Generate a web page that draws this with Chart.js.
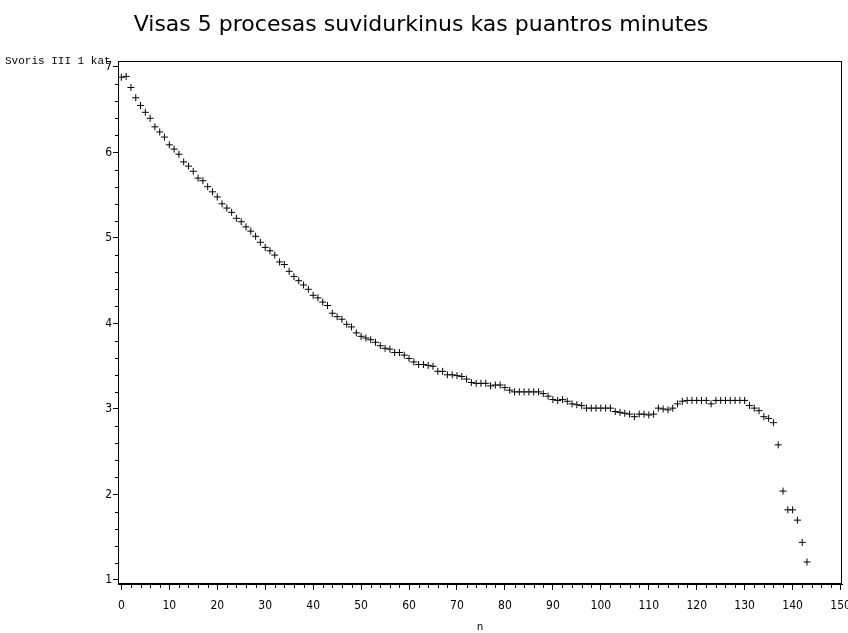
<!DOCTYPE html>
<html lang="lt">
<head>
  <meta charset="UTF-8">
  <title>Visas 5 procesas suvidurkinus kas puantros minutes</title>
  <script src="https://cdn.jsdelivr.net/npm/chart.js"></script>
  <style>
    html, body { margin: 0; padding: 0; background: #fff; }
    .chart-box { width: 848px; height: 633px; }
  </style>
</head>

<body>
  <div class="chart-box">
    <canvas id="svorisChart" width="848" height="633"></canvas>
  </div>

  <script>
    const chartTitle = 'Visas 5 procesas suvidurkinus kas puantros minutes';
    const yAxisTitle = 'Svoris III 1 kat';
    const xAxisTitle = 'n';

    const xTickValues = [0, 10, 20, 30, 40, 50, 60, 70, 80, 90, 100, 110, 120, 130, 140, 150];
    const yTickValues = [1, 2, 3, 4, 5, 6, 7];

    // svoris, n = 0..143
    const svoris = [
      6.88, 6.89, 6.76, 6.64, 6.55, 6.47, 6.40, 6.30, 6.24, 6.18,
      6.09, 6.04, 5.98, 5.89, 5.84, 5.78, 5.70, 5.67, 5.60, 5.54,
      5.48, 5.40, 5.35, 5.30, 5.23, 5.19, 5.13, 5.08, 5.02, 4.95,
      4.89, 4.85, 4.80, 4.72, 4.69, 4.61, 4.55, 4.50, 4.45, 4.40,
      4.33, 4.30, 4.25, 4.21, 4.12, 4.08, 4.05, 3.99, 3.96, 3.89,
      3.85, 3.83, 3.81, 3.78, 3.74, 3.71, 3.70, 3.66, 3.66, 3.63,
      3.59, 3.55, 3.52, 3.52, 3.51, 3.50, 3.44, 3.44, 3.40, 3.40,
      3.39, 3.38, 3.35, 3.31, 3.30, 3.30, 3.30, 3.27, 3.28, 3.28,
      3.25, 3.22, 3.20, 3.20, 3.20, 3.20, 3.20, 3.20, 3.18, 3.15,
      3.11, 3.10, 3.11, 3.09, 3.06, 3.05, 3.04, 3.01, 3.01, 3.01,
      3.01, 3.01, 3.01, 2.97, 2.96, 2.95, 2.94, 2.91, 2.94, 2.94,
      2.93, 2.94, 3.01, 3.00, 2.99, 3.01, 3.06, 3.09, 3.10, 3.10,
      3.10, 3.10, 3.10, 3.06, 3.10, 3.10, 3.10, 3.10, 3.10, 3.10,
      3.10, 3.04, 3.01, 2.98, 2.91, 2.89, 2.84, 2.58, 2.04, 1.82,
      1.82, 1.70, 1.44, 1.21
    ];
    const nValues = svoris.map((v, i) => i);

    const xMinorStep = 2;
    const yMinorStep = 0.2;

    // ramelis aplink grafika + smulkios padalos + y pavadinimas virsuje
    const frameAndMinorTicks = {
      id: 'frameAndMinorTicks',
      afterDraw(chart) {
        const { ctx, chartArea, scales } = chart;
        const area = chartArea;
        ctx.save();
        ctx.strokeStyle = '#000';
        ctx.lineWidth = 1;
        ctx.strokeRect(Math.round(area.left) + 0.5, Math.round(area.top) + 0.5,
          Math.round(area.right - area.left) - 1, Math.round(area.bottom - area.top) - 1);

        ctx.beginPath();
        for (let i = 1; i * xMinorStep < 150; i++) {
          if (i % 5 === 0) continue;
          const x = Math.round(scales.x.getPixelForValue(i * xMinorStep)) + 0.5;
          ctx.moveTo(x, area.bottom);
          ctx.lineTo(x, area.bottom + 4);
        }
        for (let i = 1; i < 30; i++) {
          if (i % 5 === 0) continue;
          const y = Math.round(scales.y.getPixelForValue(1 + i * yMinorStep)) + 0.5;
          ctx.moveTo(area.left, y);
          ctx.lineTo(area.left - 3, y);
        }
        ctx.stroke();

        ctx.fillStyle = '#000';
        ctx.font = '11px "Liberation Mono"';
        ctx.textAlign = 'left';
        ctx.textBaseline = 'middle';
        ctx.fillText(yAxisTitle, 5, 61);
        ctx.restore();
      }
    };

    const tickFont = { family: '"DejaVu Sans Condensed", "DejaVu Sans", sans-serif', size: 12 };

    const ctx = document.getElementById('svorisChart').getContext('2d');
    const chart = new Chart(ctx, {
      type: 'scatter',
      data: {
        datasets: [{
          label: yAxisTitle,
          data: nValues.map((n, i) => ({ x: n, y: svoris[i] })),
          pointStyle: 'cross',
          pointRadius: 3.5,
          pointBorderWidth: 1,
          borderColor: '#000',
          backgroundColor: '#000',
          showLine: false
        }]
      },
      options: {
        responsive: false,
        animation: false,
        devicePixelRatio: 1,
        events: [],
        layout: { padding: { top: 0, left: 0, right: 6, bottom: 0 } },
        plugins: {
          legend: { display: false },
          tooltip: { enabled: false },
          title: {
            display: true,
            text: chartTitle,
            color: '#000',
            font: { family: '"DejaVu Sans", "Liberation Sans", sans-serif', size: 22, weight: 'normal', lineHeight: 1.2 },
            padding: { top: 12, bottom: 22.6 }
          }
        },
        scales: {
          x: {
            type: 'linear',
            min: -0.7,
            max: 150.3,
            afterBuildTicks: s => { s.ticks = xTickValues.map(v => ({ value: v })); },
            afterFit: s => { s.height = 49; s.paddingLeft = 0; s.paddingRight = 0; },
            ticks: { color: '#000', font: tickFont, padding: 9, maxRotation: 0, autoSkip: false },
            grid: { drawOnChartArea: false, tickLength: 6, tickColor: '#000', color: '#000' },
            border: { color: '#000' },
            title: {
              display: true,
              text: xAxisTitle,
              color: '#000',
              font: { family: '"Liberation Mono", monospace', size: 11, lineHeight: 1 },
              padding: { top: 0, bottom: 0 }
            }
          },
          y: {
            type: 'linear',
            min: 0.953,
            max: 7.07,
            afterBuildTicks: s => { s.ticks = yTickValues.map(v => ({ value: v })); },
            afterFit: s => { s.width = 118; s.paddingTop = 0; s.paddingBottom = 0; },
            ticks: { color: '#000', font: tickFont, padding: 1 },
            grid: { drawOnChartArea: false, tickLength: 5, tickColor: '#000', color: '#000' },
            border: { color: '#000' }
          }
        }
      },
      plugins: [frameAndMinorTicks]
    });
  </script>
</body>
</html>
